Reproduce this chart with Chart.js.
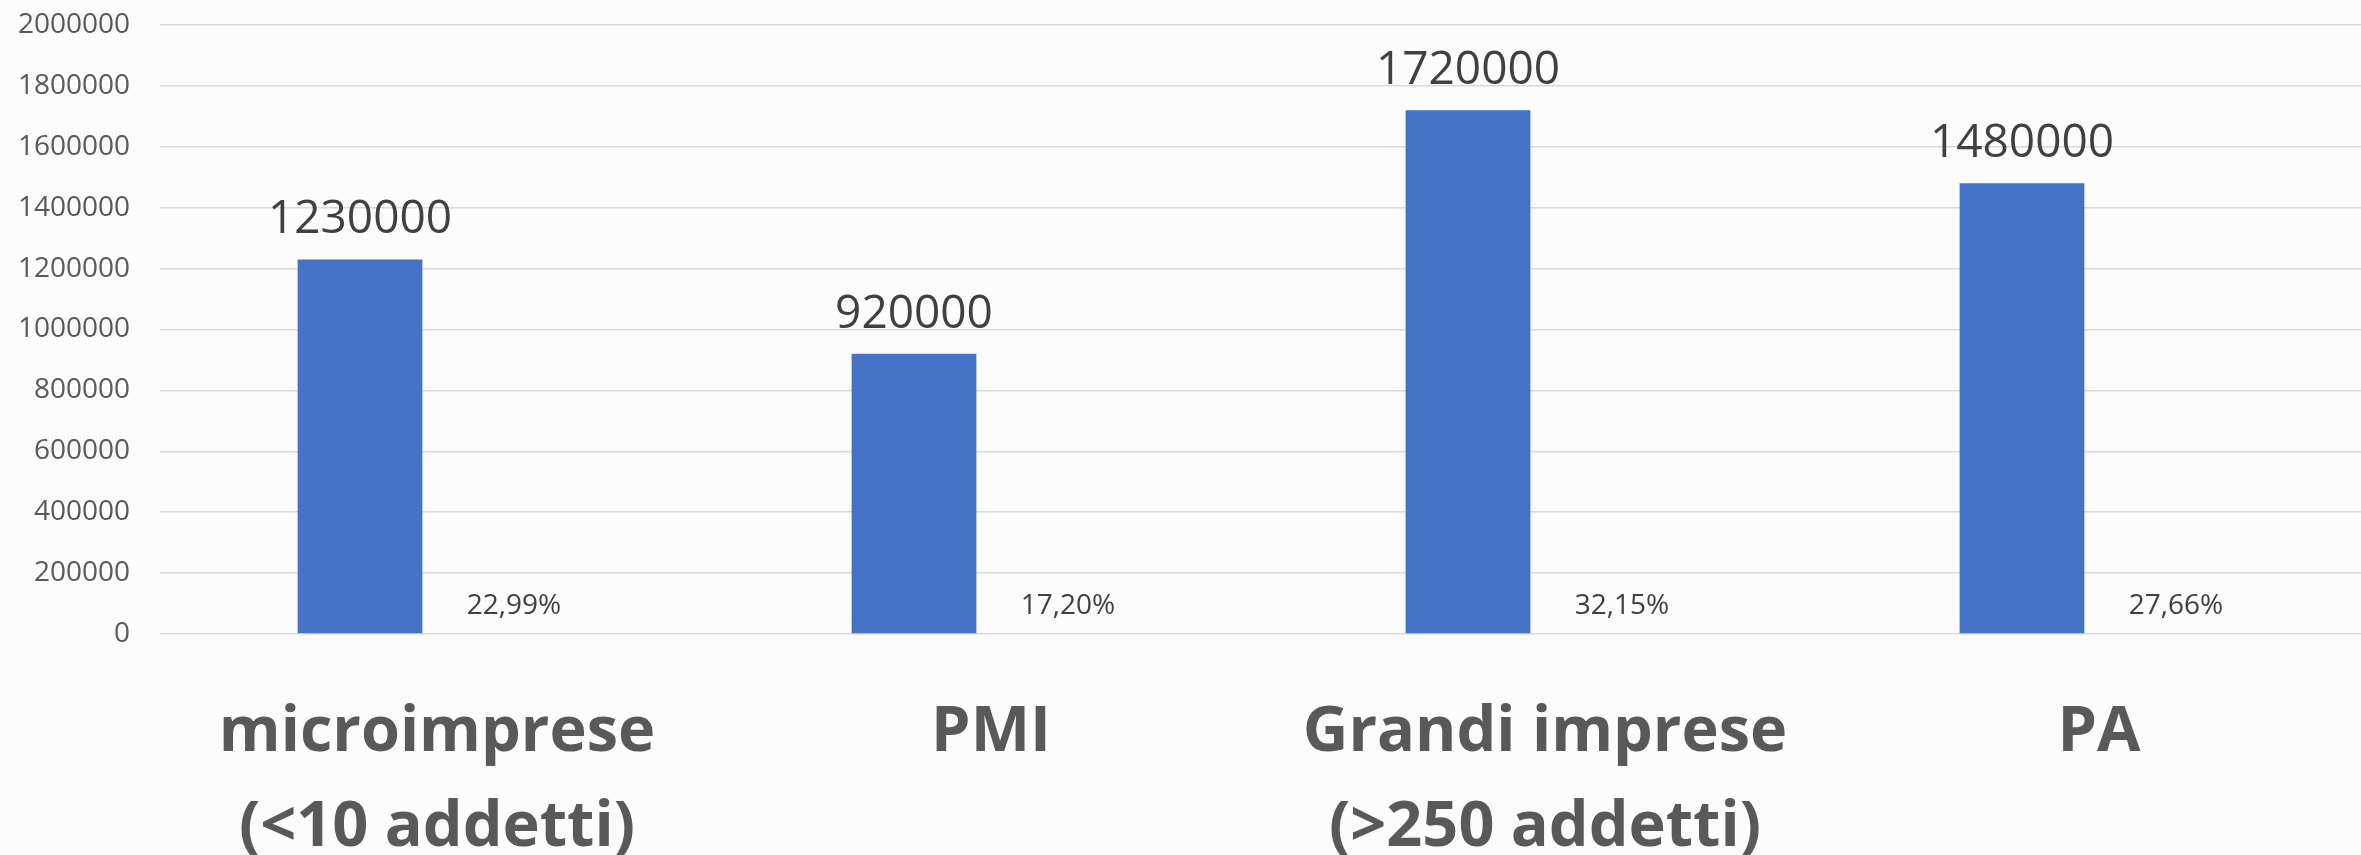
<!DOCTYPE html>
<html>
<head>
<meta charset="utf-8">
<script src="https://cdn.jsdelivr.net/npm/chart.js@4/dist/chart.umd.min.js"></script>
<style>
  html, body { margin: 0; padding: 0; background: #fcfcfc; overflow: hidden; }
  #wrap { position: relative; width: 2376px; height: 855px; }
</style>
</head>
<body>
<div id="wrap"><canvas id="c" width="2376" height="855"></canvas></div>
<script>
// Categories (multi-line labels)
const categories = [
  ['microimprese', '(<10 addetti)'],
  ['PMI'],
  ['Grandi imprese', '(>250 addetti)'],
  ['PA']
];
// Number of employees per category
const addetti = [1230000, 920000, 1720000, 1480000];
// Share of the total, in percent
const quote = [22.99, 17.20, 32.15, 27.66];
// Y-axis tick values
const yTicks = [0, 200000, 400000, 600000, 800000, 1000000, 1200000, 1400000, 1600000, 1800000, 2000000];

const FONT = '"Open Sans", "Noto Sans", sans-serif';

// Draws value labels above bars and percentage labels at the base
const barLabels = {
  id: 'barLabels',
  afterDatasetsDraw(chart) {
    const ctx = chart.ctx;
    ctx.save();
    ctx.textAlign = 'center';
    ctx.textBaseline = 'alphabetic';
    ctx.fillStyle = '#404040';
    ctx.font = '46px ' + FONT;
    chart.getDatasetMeta(0).data.forEach((bar, i) => {
      ctx.fillText(String(addetti[i]), bar.x, bar.y - 26);
    });
    ctx.font = '28px ' + FONT;
    chart.getDatasetMeta(1).data.forEach((bar, i) => {
      ctx.fillText(quote[i].toFixed(2).replace('.', ',') + '%', bar.x, bar.y - 20);
    });
    ctx.restore();
  }
};

new Chart(document.getElementById('c'), {
  type: 'bar',
  data: {
    labels: categories,
    datasets: [
      {
        label: 'Addetti',
        data: addetti,
        backgroundColor: '#4472c4',
        borderWidth: 0,
        categoryPercentage: 0.556,
        barPercentage: 0.81
      },
      {
        label: 'Quota',
        data: quote,
        backgroundColor: 'rgba(0,0,0,0)',
        borderWidth: 0,
        categoryPercentage: 0.556,
        barPercentage: 0.81
      }
    ]
  },
  options: {
    responsive: false,
    animation: false,
    layout: { padding: { top: 25, right: 0, bottom: 0, left: 0 } },
    plugins: {
      legend: { display: false },
      tooltip: { enabled: false }
    },
    scales: {
      x: {
        grid: { display: false, drawTicks: false },
        border: { display: false },
        ticks: {
          autoSkip: false,
          maxRotation: 0,
          padding: 52,
          color: '#595959',
          font: { family: FONT, size: 63, weight: 'bold', lineHeight: 1.5 }
        },
        afterFit(scale) {
          scale.height = 221;
          scale.paddingLeft = 0;
          scale.paddingRight = 0;
        }
      },
      y: {
        min: 0,
        max: 2000000,
        afterBuildTicks(scale) { scale.ticks = yTicks.map(v => ({ value: v })); },
        grid: { color: '#d9d9d9', lineWidth: 1.5, drawTicks: false },
        border: { display: false },
        ticks: {
          padding: 30,
          color: '#595959',
          font: { family: FONT, size: 28 },
          callback: v => String(v)
        },
        afterFit(scale) {
          scale.width = 160;
          scale.paddingTop = 0;
          scale.paddingBottom = 0;
        }
      }
    }
  },
  plugins: [barLabels]
});
</script>
</body>
</html>
